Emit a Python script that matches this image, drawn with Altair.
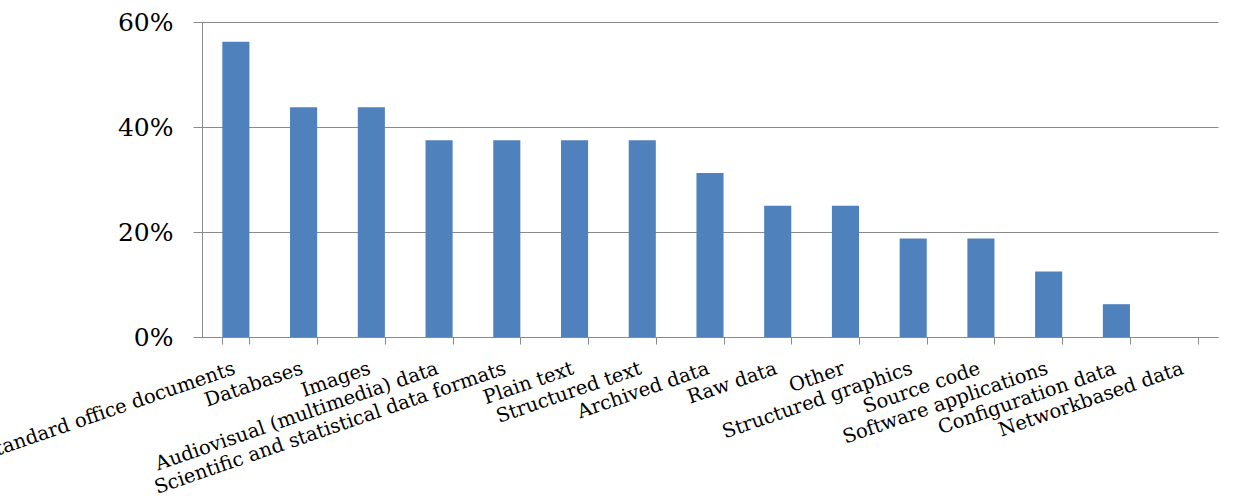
import altair as alt
import pandas as pd

categories = [
    "Standard office documents", "Databases", "Images",
    "Audiovisual (multimedia) data", "Scientific and statistical data formats",
    "Plain text", "Structured text", "Archived data", "Raw data", "Other",
    "Structured graphics", "Source code", "Software applications",
    "Configuration data", "Networkbased data",
]
shares = [0.5625, 0.4375, 0.4375, 0.375, 0.375, 0.375, 0.375, 0.3125,
          0.25, 0.25, 0.1875, 0.1875, 0.125, 0.0625, 0.0]
y_ticks = [0, 0.2, 0.4, 0.6]

df = pd.DataFrame({"category": categories, "share": shares})

FONT = "DejaVu Serif"
GRAY = "#8a8a8a"

chart = alt.Chart(df).mark_bar(color="#4F81BD").encode(
    x=alt.X(
        "category:N",
        sort=categories,
        scale=alt.Scale(paddingInner=0.6, paddingOuter=0.3),
        axis=alt.Axis(
            title=None,
            labelAngle=-19,
            labelAlign="right",
            labelBaseline="alphabetic",
            labelPadding=29,
            labelFont=FONT,
            labelFontSize=19.5,
            labelColor="#000000",
            labelOverlap=False,
            labelLimit=0,
            tickBand="extent",
            tickSize=7,
            tickColor=GRAY,
            domainColor=GRAY,
            grid=False,
        ),
    ),
    y=alt.Y(
        "share:Q",
        scale=alt.Scale(domain=[0, 0.6], nice=False),
        axis=alt.Axis(
            title=None,
            values=y_ticks,
            format=".0%",
            labelFont=FONT,
            labelFontSize=25,
            labelColor="#000000",
            labelPadding=20,
            tickSize=9,
            tickColor=GRAY,
            domainColor=GRAY,
            gridColor=GRAY,
            grid=True,
        ),
    ),
).properties(
    width=1016,
    height=315,
    autosize="none",
    padding={"left": 202, "top": 22, "right": 15, "bottom": 159},
).configure(background="white", view=alt.ViewConfig(strokeWidth=0, stroke="transparent"))

chart.save("out.html", embed_options={"renderer": "svg", "actions": False})
